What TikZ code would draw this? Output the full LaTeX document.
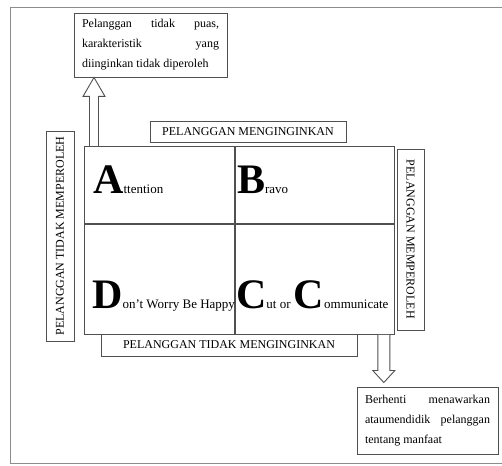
\documentclass[tikz,border=0pt]{standalone}
\usepackage{fontspec}
\setmainfont{Liberation Serif}
\usetikzlibrary{calc,positioning}
\definecolor{lineGray}{HTML}{505050}
\definecolor{frameGray}{HTML}{8C8C8C}

\newcommand{\bigltr}[1]{{\fontsize{42}{42}\selectfont\bfseries #1}}

\begin{document}
\begin{tikzpicture}[x=1pt, y=1pt,
  every node/.style={font=\fontsize{13}{15}\selectfont},
  note/.style={rectangle, draw=lineGray, line width=0.9pt, inner xsep=8pt, inner ysep=3pt,
    align=justify, font=\fontsize{12}{20}\selectfont,
    execute at begin node={\hyphenpenalty=10000\exhyphenpenalty=10000}},
  caption/.style={rectangle, draw=lineGray, line width=0.9pt, inner sep=0pt,
    font=\fontsize{12}{12}\selectfont},
  cell/.style={rectangle, draw=lineGray, line width=0.9pt, inner sep=0pt},
  quad/.style={inner sep=0pt, anchor=base west},
  hollow/.style={draw=lineGray, line width=0.9pt, fill=white, line join=miter},
]
\useasboundingbox (0,0) rectangle (502,465);

% Outer frame
\draw[frameGray, line width=0.9pt] (502,458) -- (10,458) -- (10,2) -- (502,2);

% Quadrant grid
\node[cell, minimum width=150, minimum height=77, anchor=north west] (cellA) at (84,319) {};
\node[cell, minimum width=159, minimum height=77, anchor=north west] (cellB) at (cellA.north east) {};
\node[cell, minimum width=150, minimum height=110, anchor=north west] (cellD) at (cellA.south west) {};
\node[cell, minimum width=159, minimum height=110, anchor=north west] (cellC) at (cellD.north east) {};

% Quadrant texts
\node[quad] (attn) at ($(cellA.south west)+(9,30)$) {\bigltr{A}ttention};
\node[quad] (bravo) at ($(cellB.south west)+(2,30)$) {\bigltr{B}ravo};
\node[quad] (dont) at ($(cellD.south west)+(8,26)$) {\bigltr{D}on't Worry Be Happy};
\node[quad] (cut) at ($(cellC.south west)+(1,26)$) {\bigltr{C}ut or \bigltr{C}ommunicate};

% Axis captions
\node[caption, minimum width=196, minimum height=21] (want) at (248,333.5) {PELANGGAN MENGINGINKAN};
\node[caption, minimum width=256, minimum height=22] (notwant) at (229,120) {PELANGGAN TIDAK MENGINGINKAN};
\node[caption, minimum width=210, minimum height=28, rotate=90] (notget) at (60,229) {PELANGGAN TIDAK MEMPEROLEH};
\node[caption, minimum width=181, minimum height=27, rotate=-90] (get) at (410.5,225.5) {PELANGGAN MEMPEROLEH};

% Outcome notes
\node[note, text width=137, minimum height=64] (unhappy) at (150.5,420)
  {Pelanggan tidak puas,\linebreak karakteristik yang\linebreak diinginkan tidak diperoleh};
\node[note, text width=125, minimum height=67] (stop) at (427.5,44.5)
  {Berhenti menawarkan\linebreak ataumendidik pelanggan\linebreak tentang manfaat};

% Hollow arrows
\coordinate (upfoot) at ($(cellA.north west)+(10,0)$);
\coordinate (uptip) at (upfoot |- unhappy.south);
\draw[hollow] ($(upfoot)+(-4.5,0)$) -- ($(uptip)+(-4.5,-19)$) -- ($(uptip)+(-11,-19)$)
  -- (uptip) -- ($(uptip)+(11,-19)$) -- ($(uptip)+(4.5,-19)$) -- ($(upfoot)+(4.5,0)$);
\coordinate (downfoot) at ($(cellC.south east)+(-11,0)$);
\coordinate (downtip) at ($(downfoot |- stop.north)+(0,4)$);
\draw[hollow] ($(downfoot)+(-6,0)$) -- ($(downtip)+(-6,12)$) -- ($(downtip)+(-11,12)$)
  -- (downtip) -- ($(downtip)+(11,12)$) -- ($(downtip)+(6,12)$) -- ($(downfoot)+(6,0)$);
\end{tikzpicture}
\end{document}
